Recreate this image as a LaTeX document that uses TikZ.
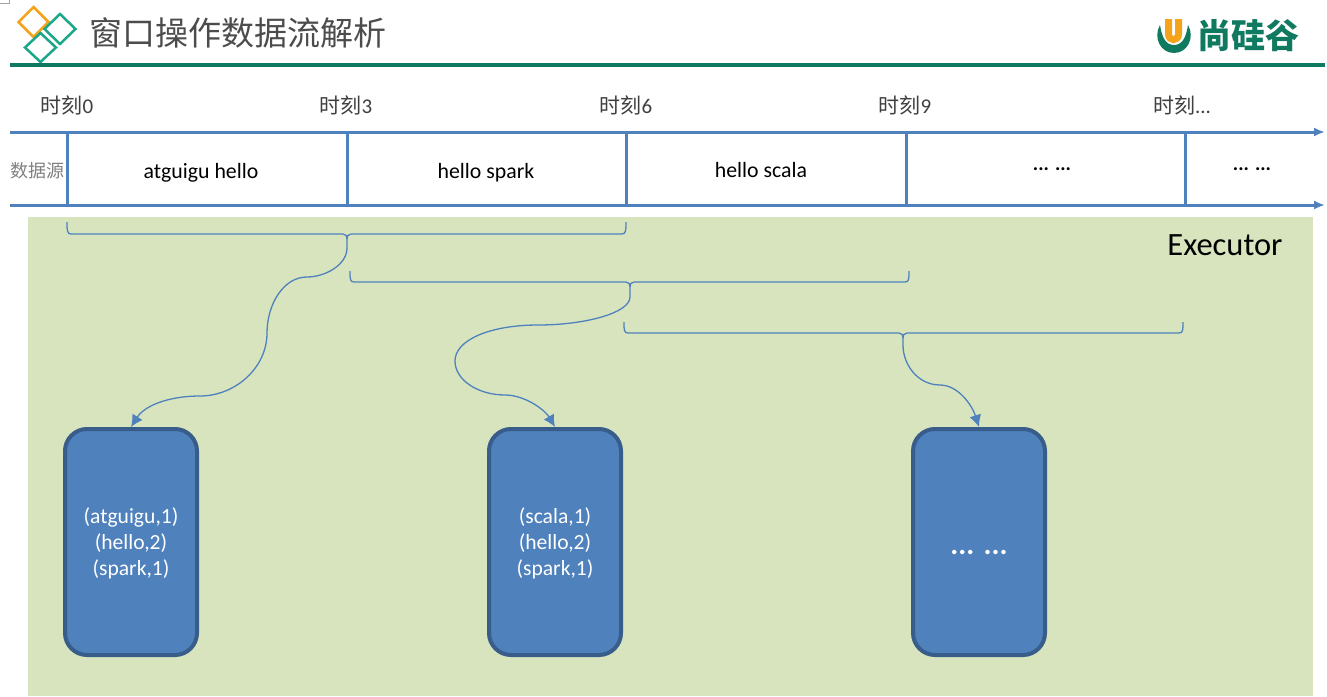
\documentclass[tikz,border=0pt]{standalone}
\usepackage{fontspec}
\setmainfont{Carlito}
\newfontfamily\cjk{Noto Sans CJK SC}
\usepackage{xcolor}
\usetikzlibrary{shapes.geometric,arrows.meta}
\definecolor{linkblue}{HTML}{4F81BD}
\definecolor{boxedge}{HTML}{385D8A}
\definecolor{panelgreen}{HTML}{D8E4BD}
\definecolor{rulegreen}{HTML}{0F7A5F}
\definecolor{logoteal}{HTML}{1AA78A}
\definecolor{logoorange}{HTML}{F5A31A}
\tikzset{
    timeline/.style={draw=linkblue, line width=3pt, -{Latex[length=11pt,width=9pt]}},
    slice/.style={draw=linkblue, line width=3pt},
    brace/.style={draw=linkblue, line width=1.3pt},
    link/.style={draw=linkblue, line width=1.3pt, -{Latex[length=12pt,width=12pt]}},
    result/.style={draw=boxedge, line width=4pt, fill=linkblue, rounded corners=22pt, minimum width=132pt, minimum height=226pt, outer sep=2pt, text=white, align=center, font=\fontsize{21.6}{26}\selectfont},
    tick/.style={font=\fontsize{21}{24}\selectfont\cjk, text=black!75, inner sep=0pt},
    cell/.style={font=\fontsize{21.8}{25}\selectfont, inner sep=0pt},
    dots/.style={font=\fontsize{20}{25}\selectfont\bfseries, inner sep=0pt}
}
\begin{document}
\begin{tikzpicture}[x=1pt, y=-1pt]
    \useasboundingbox (0,0) rectangle (1327,696);
    \fill[white] (0,0) rectangle (1327,696);
    \draw[black!35, line width=0.6pt] (0,3) -- (9,3) -- (9,0);

    % Header
    \node[diamond, draw=logoorange, line width=2.5pt, minimum width=31pt, minimum height=31pt, inner sep=0pt] (dorange) at (33.5,22) {};
    \node[diamond, draw=logoteal, line width=2.5pt, minimum width=32pt, minimum height=31pt, inner sep=0pt] (dright) at (60,29) {};
    \node[diamond, draw=logoteal, fill=white, line width=2.5pt, minimum width=32pt, minimum height=30pt, inner sep=0pt] (dlow) at (40.5,47.5) {};
    \node[font=\fontsize{33}{36}\selectfont\cjk, text=black!70, inner sep=0pt] (title) at (238,33) {窗口操作数据流解析};
    \draw[rulegreen, line width=4.5pt] (10,65) -- (1325,65);

    % Logo
    \fill[rulegreen] (1160,25) .. controls (1153,37) and (1160,53) .. (1174,53) .. controls (1188,53) and (1195,37) .. (1188,25) .. controls (1186,38) and (1182,45) .. (1174,45) .. controls (1166,45) and (1162,38) .. (1160,25) -- cycle;
    \draw[logoorange, line width=7pt] (1168.5,19) -- (1168.5,34) .. controls (1168.5,41.5) and (1178.5,41.5) .. (1178.5,34) -- (1178.5,19);
    \node[font=\fontsize{34}{36}\selectfont\cjk\bfseries, text=rulegreen, inner sep=0pt] (brand) at (1248.5,36) {尚硅谷};

    % Time labels
    \node[tick] (t0) at (67,105.5) {时刻{\rmfamily 0}};
    \node[tick] (t3) at (346,105.5) {时刻{\rmfamily 3}};
    \node[tick] (t6) at (626,105.5) {时刻{\rmfamily 6}};
    \node[tick] (t9) at (905,105.5) {时刻{\rmfamily 9}};
    \node[tick] (tn) at (1182,105.5) {时刻{\rmfamily ...}};

    % Data source
    \node[font=\fontsize{18}{20}\selectfont\cjk, text=black!50, inner sep=0pt] (source) at (37,171) {数据源};
    \coordinate (topa) at (10,132);
    \coordinate (topb) at (1325,132);
    \coordinate (lowa) at (10,205);
    \coordinate (lowb) at (1325,205);
    \draw[timeline] (topa) -- (topb);
    \draw[timeline] (lowa) -- (lowb);
    \draw[slice] (67,132) -- (67,205);
    \draw[slice] (347,132) -- (347,205);
    \draw[slice] (626,132) -- (626,205);
    \draw[slice] (906,132) -- (906,205);
    \draw[slice] (1185,132) -- (1185,205);
    \node[cell] (c1) at (201,173) {atguigu hello};
    \node[cell] (c2) at (486,173) {hello spark};
    \node[cell] (c3) at (761,170) {hello scala};
    \node[dots] (c4) at (1052,169) {... ...};
    \node[dots] (c5) at (1252,169) {... ...};

    % Executor
    \fill[panelgreen] (28,217) rectangle (1313,696);
    \node[font=\fontsize{32.5}{36}\selectfont, inner sep=0pt] (executor) at (1225,245) {Executor};

    % Windows
    \coordinate (tipa) at (347,240);
    \coordinate (tipb) at (630,288);
    \coordinate (tipc) at (903,339);
    \draw[brace] (67,222) .. controls (67,230) and (67,234) .. (71,234) -- (343,234) .. controls (346,234) and (347,236) .. (tipa) .. controls (347,236) and (348,234) .. (351,234) -- (622,234) .. controls (626,234) and (626,230) .. (626,222);
    \draw[brace] (350,271) .. controls (350,279) and (350,282) .. (354,282) -- (626,282) .. controls (629,282) and (630,284) .. (tipb) .. controls (630,284) and (631,282) .. (634,282) -- (905,282) .. controls (909,282) and (909,279) .. (909,271);
    \draw[brace] (624,322) .. controls (624,330) and (624,333) .. (628,333) -- (899,333) .. controls (902,333) and (903,335) .. (tipc) .. controls (903,335) and (904,333) .. (907,333) -- (1179,333) .. controls (1183,333) and (1183,330) .. (1183,322);

    % Results
    \node[result] (r1) at (131,542) {\\[-8pt](atguigu,1)\\(hello,2)\\(spark,1)};
    \node[result] (r2) at (555,542) {\\[-8pt](scala,1)\\(hello,2)\\(spark,1)};
    \node[result, font=\fontsize{30}{32}\selectfont\bfseries] (r3) at (979,542) {\raisebox{-25pt}{... ...}};

    \draw[link] (tipa) -- (347,248) .. controls (347,265) and (325,277) .. (307,277) .. controls (283,277) and (267,305) .. (267,333) .. controls (267,368) and (235,396) .. (200,396) .. controls (170,396) and (145,405) .. (r1.north);
    \draw[link] (tipb) -- (630,297) .. controls (630,313) and (585,325) .. (538,325) .. controls (490,325) and (455,340) .. (455,361) .. controls (455,380) and (478,395) .. (505,395) .. controls (525,395) and (545,410) .. (r2.north);
    \draw[link] (tipc) -- (903,345) .. controls (903,365) and (918,385) .. (940,385) .. controls (958,385) and (972,405) .. (r3.north);
\end{tikzpicture}
\end{document}
